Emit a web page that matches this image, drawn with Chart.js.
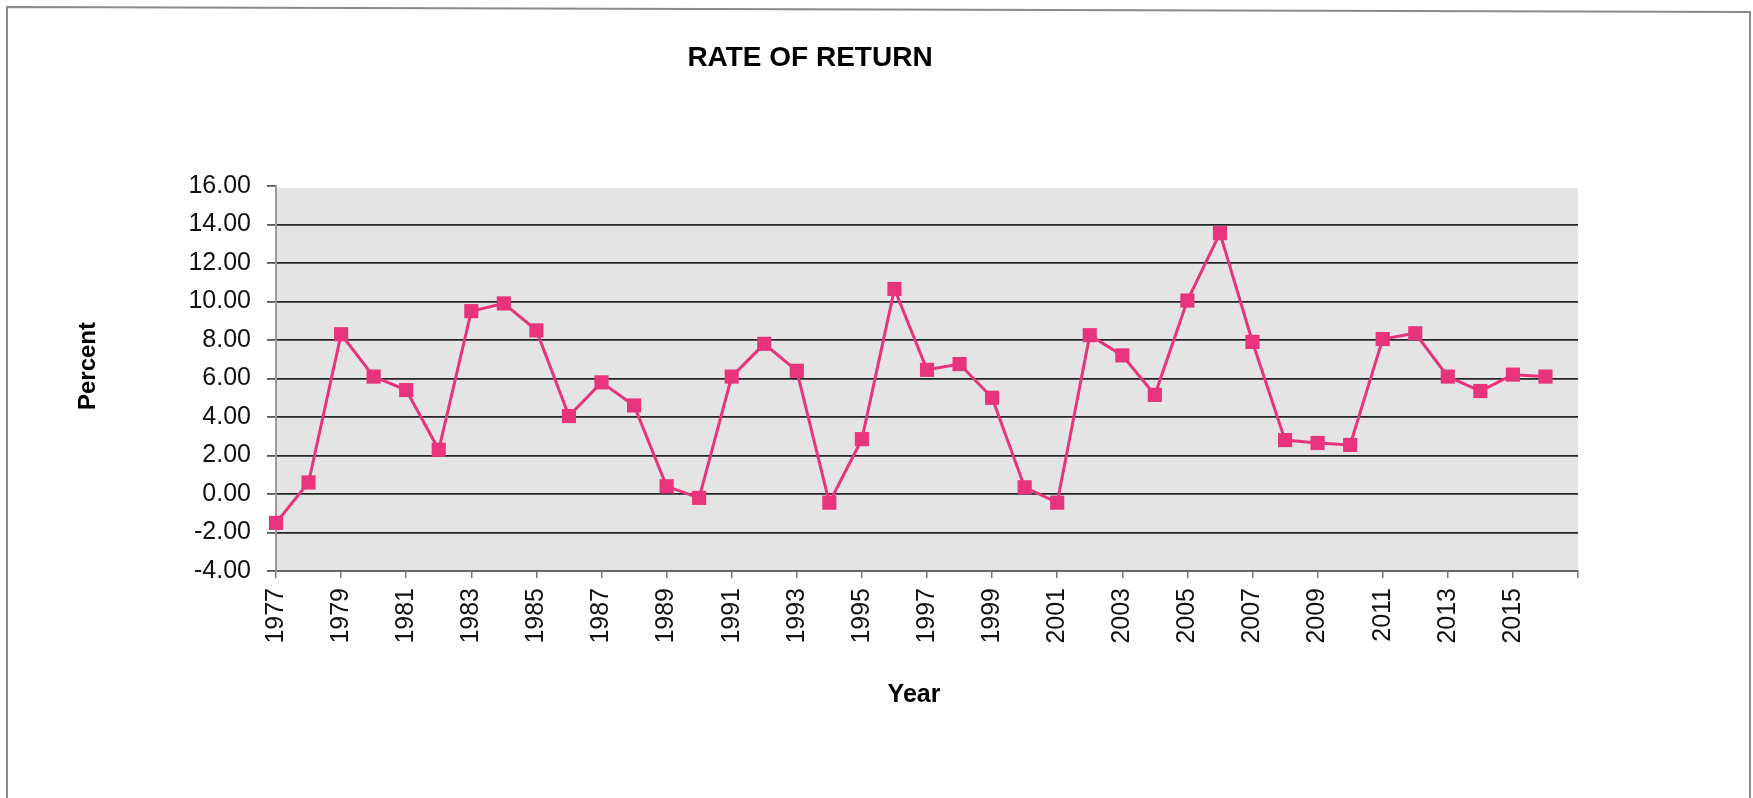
<!DOCTYPE html>
<html><head><meta charset="utf-8">
<script src="https://cdn.jsdelivr.net/npm/chart.js@4/dist/chart.umd.min.js"></script>
<style>html,body{margin:0;padding:0;background:#fff;overflow:hidden;} #wrap{width:1753px;height:798px;position:relative;}</style>
</head><body><div id="wrap"><canvas id="c" width="1753" height="798"></canvas></div>
<script>
const years = [1977,1978,1979,1980,1981,1982,1983,1984,1985,1986,1987,1988,1989,1990,1991,1992,1993,1994,1995,1996,1997,1998,1999,2000,2001,2002,2003,2004,2005,2006,2007,2008,2009,2010,2011,2012,2013,2014,2015,2016];
const rateOfReturn = [-1.5,0.6,8.3,6.1,5.4,2.3,9.5,9.9,8.5,4.05,5.8,4.6,0.4,-0.2,6.1,7.8,6.4,-0.45,2.85,10.65,6.45,6.75,5.0,0.35,-0.45,8.25,7.2,5.15,10.05,13.55,7.9,2.8,2.65,2.55,8.05,8.35,6.1,5.35,6.2,6.1];
const yTickValues = [-4,-2,0,2,4,6,8,10,12,14,16];
const xTickYears = [1977,1979,1981,1983,1985,1987,1989,1991,1993,1995,1997,1999,2001,2003,2005,2007,2009,2011,2013,2015,2017];
const unlabeledTicks = [2017];
const chartTitle = 'RATE OF RETURN';
const xTitle = 'Year';
const yTitle = 'Percent';

const FONT = "'Liberation Sans', Arial, sans-serif";
const PINK = '#e8347c';

const decor = {
  id: 'decor',
  beforeDraw(chart) {
    const ctx = chart.ctx, a = chart.chartArea;
    ctx.save();
    ctx.fillStyle = '#ffffff';
    ctx.fillRect(0, 0, chart.width, chart.height);
    ctx.fillStyle = '#e4e4e4';
    ctx.fillRect(a.left, a.top + 2, a.right - a.left, a.bottom - a.top - 2);
    ctx.strokeStyle = '#8a8a8a';
    ctx.lineWidth = 2;
    ctx.beginPath();
    ctx.moveTo(7, 820); ctx.lineTo(7, 7); ctx.lineTo(1750, 12); ctx.lineTo(1750, 820);
    ctx.stroke();
    ctx.restore();
  },
  afterDraw(chart) {
    const ctx = chart.ctx;
    ctx.save();
    ctx.fillStyle = '#000';
    ctx.textAlign = 'center';
    ctx.textBaseline = 'middle';
    ctx.font = "bold 28px " + FONT;
    ctx.fillText(chartTitle, 810, 58);
    ctx.font = "bold 25px " + FONT;
    ctx.fillText(xTitle, 914, 695);
    ctx.translate(88, 366);
    ctx.rotate(-Math.PI / 2);
    ctx.font = "bold 24px " + FONT;
    ctx.fillText(yTitle, 0, 0);
    ctx.restore();
  }
};

new Chart(document.getElementById('c'), {
  type: 'line',
  data: {
    datasets: [{
      label: chartTitle,
      data: years.map((y, i) => ({ x: y, y: rateOfReturn[i] })),
      borderColor: PINK,
      backgroundColor: PINK,
      borderWidth: 3,
      pointStyle: 'rect',
      pointRadius: 10,
      pointBackgroundColor: PINK,
      pointBorderWidth: 0,
      tension: 0,
      clip: false
    }]
  },
  options: {
    responsive: false,
    animation: false,
    devicePixelRatio: 1,
    layout: { padding: { left: 0, top: 186, right: 175, bottom: 127 } },
    plugins: { legend: { display: false }, tooltip: { enabled: false }, title: { display: false } },
    scales: {
      x: {
        type: 'linear',
        min: 1977, max: 2017,
        afterBuildTicks: s => { s.ticks = xTickYears.map(v => ({ value: v })); },
        afterFit: s => { s.height = 100; },
        ticks: {
          autoSkip: false, minRotation: 90, maxRotation: 90,
          callback: v => unlabeledTicks.includes(v) ? '' : String(v),
          font: { family: FONT, size: 25 }, color: '#111', padding: 10
        },
        grid: { drawOnChartArea: false, tickLength: 7, tickColor: '#777', lineWidth: 1.5 },
        border: { display: true, color: '#666', width: 2 }
      },
      y: {
        type: 'linear',
        min: -4, max: 16,
        afterBuildTicks: s => { s.ticks = yTickValues.map(v => ({ value: v })); },
        afterFit: s => { s.width = 276; },
        ticks: {
          callback: v => Number(v).toFixed(2),
          font: { family: FONT, size: 25 }, color: '#111', padding: 16
        },
        grid: {
          color: c => (c.tick && (c.tick.value === 16 || c.tick.value === -4)) ? 'rgba(0,0,0,0)' : '#262626',
          lineWidth: 1.8, tickLength: 9, tickColor: '#555'
        },
        border: { display: true, color: '#999', width: 2 }
      }
    }
  },
  plugins: [decor]
});
</script>
</body></html>
